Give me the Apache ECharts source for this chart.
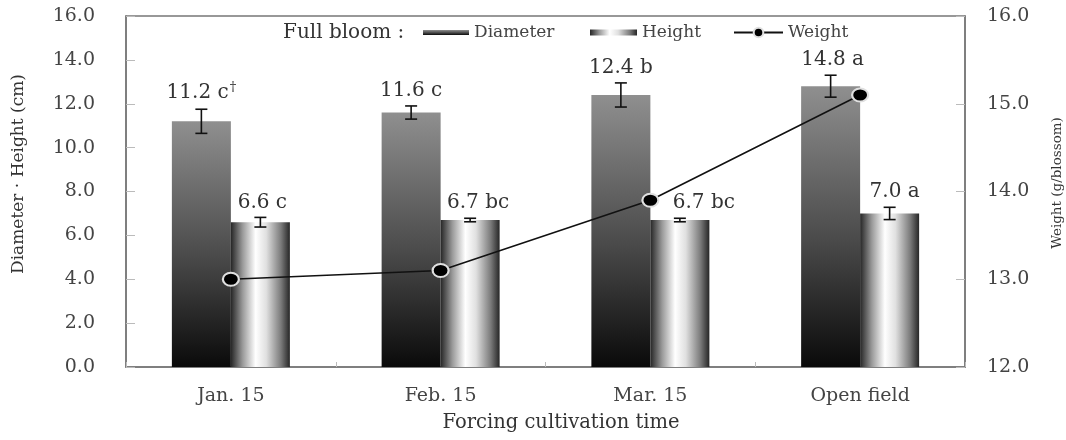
<!DOCTYPE html>
<html>
<head>
<meta charset="utf-8">
<script src="https://cdn.jsdelivr.net/npm/echarts@6/dist/echarts.min.js"></script>
<style>
html,body{margin:0;padding:0;background:#fff;}
#c{width:1066px;height:440px;}
</style>
</head>
<body>
<div id="c"></div>
<script>
const categories = ['Jan. 15', 'Feb. 15', 'Mar. 15', 'Open field'];
const diameterVals = [11.2, 11.6, 12.4, 12.8];
const diameterErr = [0.55, 0.3, 0.55, 0.5];
const diameterLabels = ['11.2 c{s|†}', '11.6 c', '12.4 b', '14.8 a'];
const heightVals = [6.6, 6.7, 6.7, 7.0];
const heightErr = [0.22, 0.08, 0.08, 0.28];
const heightLabels = ['6.6 c', '6.7 bc', '6.7 bc', '7.0 a'];
const weightVals = [13.0, 13.1, 13.9, 15.1];
const leftTicks = { min: 0, max: 16, interval: 2 };
const rightTicks = { min: 12, max: 16, interval: 1 };

// layout-only settings (pixel shifts of value labels, not data)
const labelLayout = { diameterDx: [0, 0, 0, 2], heightDx: [2, 8, 24, 5] };

const FONT = '"DejaVu Serif", "Liberation Serif", serif';
const BAR_W = 59;
const TXT = '#333';

const chart = echarts.init(document.getElementById('c'), null, { renderer: 'canvas' });

function errRender(side) {
  return function (params, api) {
    const i = api.value(0);
    const v = api.value(1);
    const e = api.value(2);
    const c = api.coord([i, v]);
    const x = c[0] + side * BAR_W / 2;
    const top = api.coord([i, v + e])[1];
    const bot = api.coord([i, v - e])[1];
    const cap = 6;
    const ls = { stroke: '#111', lineWidth: 1.6 };
    const k = params.dataIndex;
    const label = side < 0 ? diameterLabels[k] : heightLabels[k];
    const dx = side < 0 ? labelLayout.diameterDx[k] : labelLayout.heightDx[k];
    return {
      type: 'group',
      children: [
        { type: 'line', shape: { x1: x, y1: top, x2: x, y2: bot }, style: ls },
        { type: 'line', shape: { x1: x - cap, y1: top, x2: x + cap, y2: top }, style: ls },
        { type: 'line', shape: { x1: x - cap, y1: bot, x2: x + cap, y2: bot }, style: ls },
        {
          type: 'text',
          style: {
            text: label, x: x + dx, y: top - 5,
            align: 'center', verticalAlign: 'bottom',
            font: '20px ' + FONT, fill: TXT,
            rich: { s: { fontSize: 13, fontFamily: FONT, verticalAlign: 'top', padding: [0, 0, 10, 1], fill: TXT, color: TXT } }
          }
        }
      ]
    };
  };
}

const diamGrad = new echarts.graphic.LinearGradient(0, 0, 0, 1, [
  { offset: 0, color: '#8f8f8f' },
  { offset: 0.55, color: '#4a4a4a' },
  { offset: 1, color: '#0a0a0a' }
]);
const heightGrad = new echarts.graphic.LinearGradient(0, 0, 1, 0, [
  { offset: 0, color: '#262626' },
  { offset: 0.2, color: '#9a9a9a' },
  { offset: 0.42, color: '#ffffff' },
  { offset: 0.6, color: '#e0e0e0' },
  { offset: 0.85, color: '#7a7a7a' },
  { offset: 1, color: '#262626' }
]);

const legendText = { fontFamily: FONT, fontSize: 17, color: '#444' };

const option = {
  animation: false,
  backgroundColor: '#fff',
  grid: { left: 126, right: 101, top: 16, bottom: 73, show: true, borderColor: '#777', borderWidth: 1.5, backgroundColor: 'transparent' },
  legend: [
    { data: ['Diameter'], left: 423, top: 24, padding: 0, icon: 'rect', itemWidth: 46, itemHeight: 5, textStyle: legendText },
    { data: ['Height'], left: 590, top: 24, padding: 0, icon: 'rect', itemWidth: 47, itemHeight: 6, textStyle: legendText },
    { data: ['Weight'], left: 733, top: 24, padding: 0, itemWidth: 49, itemHeight: 12, textStyle: legendText }
  ],
  graphic: [
    { type: 'text', left: 283, top: 23, style: { text: 'Full bloom :', font: '20px ' + FONT, fill: TXT } },
    { type: 'text', x: 19, y: 174, rotation: Math.PI / 2, style: { text: 'Diameter · Height (cm)', font: '17px ' + FONT, fill: TXT, align: 'center', verticalAlign: 'middle' } },
    { type: 'text', x: 1057, y: 183, rotation: Math.PI / 2, style: { text: 'Weight (g/blossom)', font: '13.5px ' + FONT, fill: TXT, align: 'center', verticalAlign: 'middle' } },
    { type: 'text', x: 561, y: 423, style: { text: 'Forcing cultivation time', font: '19.5px ' + FONT, fill: TXT, align: 'center', verticalAlign: 'middle' } }
  ],
  xAxis: {
    type: 'category',
    data: categories,
    axisLine: { lineStyle: { color: '#777', width: 1.5 } },
    axisTick: { show: true, inside: true, length: 5, interval: 0, lineStyle: { color: '#bbb' } },
    axisLabel: { fontFamily: FONT, fontSize: 19, color: '#444', margin: 20, interval: 0 },
    splitLine: { show: false }
  },
  yAxis: [
    {
      type: 'value', min: leftTicks.min, max: leftTicks.max, interval: leftTicks.interval,
      axisLine: { show: true, lineStyle: { color: '#777', width: 1.5 } },
      axisTick: { show: true, inside: true, length: 9, lineStyle: { color: '#bbb' } },
      axisLabel: { fontFamily: FONT, fontSize: 19, color: '#444', margin: 31, formatter: v => v.toFixed(1) },
      splitLine: { show: false }
    },
    {
      type: 'value', position: 'right', min: rightTicks.min, max: rightTicks.max, interval: rightTicks.interval,
      axisLine: { show: true, lineStyle: { color: '#777', width: 1.5 } },
      axisTick: { show: true, inside: true, length: 9, lineStyle: { color: '#bbb' } },
      axisLabel: { fontFamily: FONT, fontSize: 19, color: '#444', margin: 22, formatter: v => v.toFixed(1) },
      splitLine: { show: false }
    }
  ],
  series: [
    { name: 'Diameter', type: 'bar', data: diameterVals, barWidth: BAR_W, barGap: '0%', itemStyle: { color: diamGrad }, z: 2 },
    { name: 'Height', type: 'bar', data: heightVals, barWidth: BAR_W, barGap: '0%', itemStyle: { color: heightGrad }, z: 2 },
    {
      name: 'dErr', type: 'custom', renderItem: errRender(-1), z: 4,
      data: diameterVals.map((v, i) => [i, v, diameterErr[i]]), encode: { x: 0, y: 1 }, silent: true
    },
    {
      name: 'hErr', type: 'custom', renderItem: errRender(1), z: 4,
      data: heightVals.map((v, i) => [i, v, heightErr[i]]), encode: { x: 0, y: 1 }, silent: true
    },
    {
      name: 'Weight', type: 'line', yAxisIndex: 1, data: weightVals, z: 6,
      symbol: 'circle', symbolSize: [16, 13],
      lineStyle: { color: '#111', width: 1.6 },
      itemStyle: { color: '#000', borderColor: '#e0e0e0', borderWidth: 2 }
    }
  ]
};
chart.setOption(option);
</script>
</body>
</html>
